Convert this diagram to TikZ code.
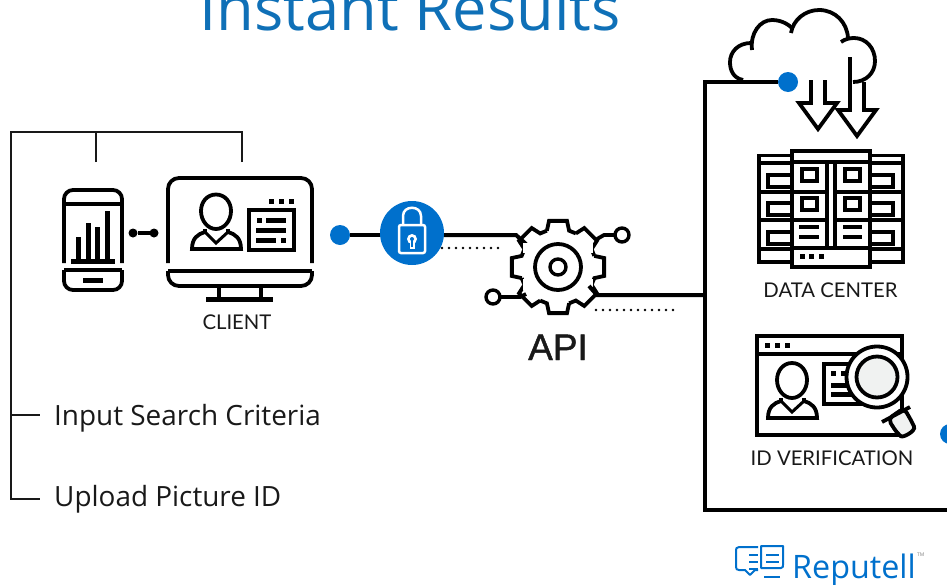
\documentclass[tikz,border=0pt]{standalone}
\usepackage{fontspec}
\setmainfont{Open Sans}
\newfontfamily\gillish{Lato}
\newfontfamily\apifont[RawFeature={embolden=1.2}]{Liberation Sans}
\definecolor{repblue}{HTML}{0070CC}
\definecolor{titleblue}{HTML}{0F70B7}
\definecolor{glassgray}{HTML}{F0F2F1}
\tikzset{
  thin line/.style={line width=1.2pt,black!90},
  icon/.style={line width=3.8pt,black,line join=miter},
  main line/.style={line width=4pt,black},
  blackbar/.style={line width=4.2pt,black},
  dots line/.style={line width=2.6pt,black,dash pattern=on 0pt off 7pt,line cap=round},
  bluedot/.style={circle,fill=repblue,minimum size=20pt,inner sep=0pt,outer sep=0pt},
  ringdot/.style={circle,draw=black,line width=3.4pt,fill=white,minimum size=14pt,inner sep=0pt,outer sep=0pt},
  smalldot/.style={circle,fill=black,minimum size=9pt,inner sep=0pt,outer sep=0pt},
  caption/.style={inner sep=0pt,anchor=base,font=\gillish\fontsize{20.3}{21}\selectfont,text=black!90},
  bullet text/.style={inner sep=0pt,anchor=base west,font=\fontsize{27.9}{30}\selectfont,text=black!90},
}
\begin{document}
\begin{tikzpicture}[x=1pt,y=-1pt]
\useasboundingbox (0,0) rectangle (947,584);
\clip (0,0) rectangle (947,584);
% title
\node[inner sep=0pt,anchor=base,font=\fontsize{61.4}{66}\selectfont,text=titleblue] (title) at (410,30) {Instant Results};
% left bracket
\coordinate (brTL) at (11,132); \coordinate (brA) at (96,132); \coordinate (brB) at (242,132);
\coordinate (brA2) at (96,162); \coordinate (brB2) at (242,162);
\coordinate (brM) at (11,415); \coordinate (brBL) at (11,499);
\coordinate (brM2) at (40,415); \coordinate (brBL2) at (40,499);
\draw[thin line] (brA2) -- (brA);
\draw[thin line] (brB2) -- (brB) -- (brTL) -- (brBL) -- (brBL2);
\draw[thin line] (brM) -- (brM2);
\node[bullet text] (t1) at (54,425) {Input Search Criteria};
\node[bullet text] (t2) at (54,506) {Upload Picture ID};
% phone
\draw[icon,rounded corners=9pt] (64,263) -- (64,190) -- (122,190) -- (122,263);
\draw[icon] (64,204) -- (122,204);
\draw[icon,rounded corners=9pt] (64,270) -- (64,290) -- (122,290) -- (122,270);
\draw[icon] (64,270) -- (122,270);
\fill (71,259) rectangle (115,264);
\fill (76,237) rectangle (81,260);
\fill (86,223) rectangle (91,260);
\fill (95,227) rectangle (100,260);
\fill (105,211) rectangle (110,260);
\fill (83,278) rectangle (103,283);
\node[smalldot] (pc1) at (133,233) {};
\node[smalldot] (pc2) at (154,233) {};
\draw[icon] (pc1) -- (pc2);
% monitor
\draw[icon,rounded corners=11pt] (168,263) -- (168,178) -- (312,178) -- (312,263);
\draw[icon] (168,271) -- (312,271);
\draw[icon,rounded corners=11pt] (168,271) -- (168,286) -- (312,286) -- (312,271);
\draw[line width=4.5pt] (219,287) -- (219,300);
\draw[line width=4.5pt] (261,287) -- (261,300);
\fill (206,297) rectangle (273,302);
% person on the monitor
\draw[icon] (216,194.5) .. controls (225,194.5) and (231,202) .. (231,211) .. controls (231,221) and (224,229) .. (216,229) .. controls (208,229) and (201,221) .. (201,211) .. controls (201,202) and (207,194.5) .. (216,194.5);
\draw[icon] (205,229) -- (205,232) .. controls (198,234) and (192,238) .. (192,249) -- (241,249) .. controls (241,238) and (235,234) .. (228,232) -- (228,229);
\draw[line width=3pt] (205,232) -- (216,243) -- (228,232);
\draw[icon] (249,210) rectangle (294,250);
\fill (269,199) rectangle (274,204); \fill (279,199) rectangle (284,204); \fill (289,199) rectangle (294,204);
\fill (257,218) rectangle (262,223); \fill (266,218) rectangle (286,223);
\fill (256,228) rectangle (286,233);
\fill (256,238) rectangle (276,243); \fill (281,238) rectangle (286,243);
\node[caption] (client) at (237,329) {CLIENT};
% connector dot, lock
\coordinate (lockL) at (390,235); \coordinate (lockR) at (434,235);
\coordinate (gearIn) at (516,235);
\coordinate (gearInB) at (526,244);
\node[bluedot] (d1) at (340,235) {};
\draw[main line] (d1) -- (lockL);
\draw[main line] (lockR) -- (gearIn) -- (gearInB);
\node[circle,fill=repblue,minimum size=64pt,inner sep=0pt,outer sep=0pt] (lock) at (412,233) {};
\draw[line width=2.5pt,white] (403,226) -- (403,216) .. controls (403,205) and (421,205) .. (421,216) -- (421,226);
\draw[line width=2.5pt,white,rounded corners=2pt,fill=repblue] (399,225) rectangle (425,253);
\fill[white] (412,239) circle[radius=5];
\fill[white] (409.5,240) rectangle (414.5,249);
\fill[repblue] (412,239) circle[radius=2];
\fill[repblue] (411,240) rectangle (413,247);
\coordinate (ld1) at (442,248); \coordinate (ld2) at (505,248);
\draw[dots line] (ld1) -- (ld2);
% gear
\begin{scope}[shift={(558,267)}]
  \draw[line width=3.8pt,line join=miter]
    \foreach \a in {0,45,...,315} { (\a-17:38) -- (\a-11:47) -- (\a+11:47) -- (\a+17:38) -- (\a+28:38) };
  \draw[line width=3.8pt] (0,0) circle[radius=23];
  \draw[line width=3.4pt] (0,0) circle[radius=8];
  \fill[white] (-35.5,-24) rectangle (-25,-14);
  \fill[white] (25,-25) rectangle (35,-14);
  \fill[white] (-35,12) rectangle (-25,23);
  \fill[white] (25,12) rectangle (35,24);
\end{scope}
\node[inner sep=0pt,minimum size=94pt] (gear) at (558,267) {};
\node[ringdot] (gr) at (622,235) {};
\node[ringdot] (gl) at (493,297) {};
\coordinate (grA) at (597,239); \coordinate (grB) at (604,235);
\coordinate (glA) at (520,297); \coordinate (glB) at (526,294);
\draw[icon] (gr) -- (grB) -- (grA);
\draw[icon] (gl) -- (glA) -- (glB);
\coordinate (gO1) at (589,286); \coordinate (gO2) at (597,295);
\coordinate (boxMid) at (705,295);
\draw[main line] (gO1) -- (gO2) -- (boxMid);
\coordinate (rd1) at (596,310); \coordinate (rd2) at (680,310);
\draw[dots line] (rd1) -- (rd2);
\node[inner sep=0pt,anchor=base,font=\apifont\fontsize{37}{40}\selectfont,text=black!90] (api) at (558,360) {API};
% main box
\node[bluedot] (d2) at (788,82) {};
\node[bluedot] (d3) at (950,434) {};
\coordinate (bB) at (947,510);
\draw[main line,line join=miter] (d2) -- (705,82) -- (705,510) -- (bB);
% cloud
\draw[icon,line cap=butt] (743,80) .. controls (733,78) and (730,70) .. (730,62) .. controls (730,52) and (738,43) .. (751,43);
\draw[icon] (752,50) .. controls (750,33) and (760,20) .. (772,20) .. controls (782,20) and (789,25) .. (792,28);
\draw[icon] (791,33) .. controls (793,20) and (805,10) .. (819,10) .. controls (835,10) and (847,22) .. (848,38);
\draw[icon] (841,42) .. controls (845,39) and (850,38) .. (854,38) .. controls (866,38) and (875,48) .. (875,61) .. controls (875,73) and (866,82) .. (853,82);
% arrows
\draw[icon] (811,80) -- (811,103) -- (799,103) -- (818,129) -- (837,103) -- (825,103) -- (825,80);
\draw[icon] (850,57) -- (850,110) -- (838,110) -- (857,136) -- (876,110) -- (864,110) -- (864,82);
% data center
\draw[icon] (759,155.5) rectangle (903,262);
\draw[icon,fill=white] (792,151) rectangle (870,267);
\draw[blackbar] (759,163) -- (790,163); \draw[blackbar] (872,163) -- (903,163);
\foreach \yy in {192,220,249} {
  \draw[blackbar] (759,\yy) -- (790,\yy);
  \draw[blackbar] (872,\yy) -- (903,\yy);
}
\draw[blackbar] (792,162) -- (870,162);
\draw[blackbar] (792,248) -- (870,248);
\draw[blackbar] (792,192) -- (827,192); \draw[blackbar] (835,192) -- (870,192);
\draw[blackbar] (792,220) -- (827,220); \draw[blackbar] (835,220) -- (870,220);
\draw[blackbar] (827,162) -- (827,248);
\draw[blackbar] (835,162) -- (835,248);
\foreach \yy/\zz in {175/187,203/215,232/244} {
  \draw[icon] (791,\yy) -- (768,\yy) -- (768,\zz) -- (791,\zz);
  \draw[icon] (871,\yy) -- (893,\yy) -- (893,\zz) -- (871,\zz);
}
\draw[icon] (802,169) rectangle (817,181); \draw[icon] (845,169) rectangle (860,181);
\draw[icon] (802,198) rectangle (817,210); \draw[icon] (845,198) rectangle (860,210);
\draw[blackbar] (799,227) -- (819,227); \draw[blackbar] (799,237) -- (819,237);
\draw[blackbar] (843,227) -- (862,227); \draw[blackbar] (843,237) -- (862,237);
\fill (800,254) rectangle (805,259); \fill (809,254) rectangle (814,259); \fill (819,254) rectangle (824,259);
\node[caption] (dc) at (830.5,297) {DATA CENTER};
% id verification
\draw[icon] (757,336) rectangle (902,435);
\draw[icon] (757,354) -- (902,354);
\fill (765,343) rectangle (770,348); \fill (775,343) rectangle (780,348); \fill (785,343) rectangle (790,348);
\begin{scope}[shift={(76,381)}]
\draw[icon] (716,-18) .. controls (725,-18) and (731,-10) .. (731,-1) .. controls (731,9) and (724,17) .. (716,17) .. controls (708,17) and (701,9) .. (701,-1) .. controls (701,-10) and (707,-18) .. (716,-18);
\draw[icon] (705,17) -- (705,20) .. controls (698,22) and (692,26) .. (692,37) -- (741,37) .. controls (741,26) and (735,22) .. (728,20) -- (728,17);
\draw[line width=3pt] (705,20) -- (716,31) -- (728,20);
\end{scope}
\draw[icon] (824,364) rectangle (870,404);
\fill (831,371) rectangle (836,376); \fill (841,371) rectangle (846,376);
\fill (831,383) rectangle (860,388); \fill (831,392) rectangle (860,397);
% magnifier
\draw[icon,fill=glassgray,rounded corners=5pt] (888,419) -- (897,433) .. controls (903,438) and (916,431) .. (912,422) -- (904,408) -- cycle;
\draw[icon] (882,422) -- (910,407);
\draw[icon,fill=white] (877,377) circle[radius=30.5];
\draw[icon,fill=glassgray] (877,377) circle[radius=20.5];
\node[caption] (idv) at (832,465) {ID VERIFICATION};
% logo
\begin{scope}[line width=2pt,repblue,line join=round]
  \draw (758,547) -- (739,547) .. controls (736,547) and (736,549) .. (736,551) -- (736,567) .. controls (736,569) and (737,570) .. (739,570) -- (745,570) -- (750,575) -- (755,570) -- (758,570);
  \draw (761,546) -- (761,568) -- (781,568) .. controls (783,568) and (783,566) .. (783,565) -- (783,546) -- cycle;
  \draw (749,555) -- (758,555); \draw (749,562) -- (758,562); \draw (749,569) -- (758,569);
  \draw (766,555) -- (779,555); \draw (766,562) -- (779,562);
  \draw[line width=2.6pt] (764,577) -- (780,577);
\end{scope}
\node[inner sep=0pt,anchor=base west,font=\fontsize{32.3}{36}\selectfont,text=repblue] (logo) at (792,578) {Reputell};
\node[inner sep=0pt,anchor=base west,font=\fontsize{5}{6}\selectfont,text=black!50] (tm) at (917,556) {TM};
\end{tikzpicture}
\end{document}
